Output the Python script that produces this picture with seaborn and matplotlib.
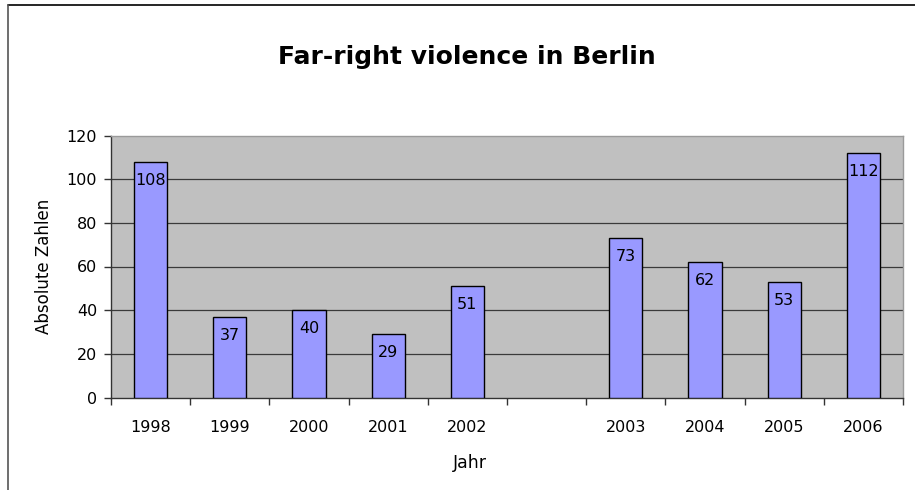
import matplotlib
matplotlib.use("Agg")
import matplotlib.pyplot as plt
import seaborn as sns
import pandas as pd
from matplotlib.lines import Line2D

# ---- data ----
years = ["1998", "1999", "2000", "2001", "2002", "2003", "2004", "2005", "2006"]
counts = [108, 37, 40, 29, 51, 73, 62, 53, 112]
gap_label = " "
order = years[:5] + [gap_label] + years[5:]
yticks = [0, 20, 40, 60, 80, 100, 120]

title = "Far-right violence in Berlin"
xlabel = "Jahr"
ylabel = "Absolute Zahlen"

df = pd.DataFrame({"Jahr": years, "Anzahl": counts})

sns.set_theme(style="white")
plt.rcParams["font.family"] = ["DejaVu Sans"]
plt.rcParams["text.color"] = "black"
plt.rcParams["axes.labelcolor"] = "black"

fig = plt.figure(figsize=(9.15, 4.9), dpi=100)
ax = fig.add_axes([111 / 915, 1 - 397.5 / 490, (903 - 111) / 915, (397.5 - 135.5) / 490])

sns.barplot(data=df, x="Jahr", y="Anzahl", order=order, color="#9999FF",
            saturation=1, width=0.42, edgecolor="black", linewidth=1.0, ax=ax, zorder=3)

ax.set_facecolor("#C0C0C0")
ax.set_ylim(0, 120)
ax.set_xlim(-0.5, len(order) - 0.5)
ax.set_yticks(yticks)
ax.set_yticklabels([str(v) for v in yticks], fontsize=11.5, color="black")
for v in yticks[1:-1]:
    ax.axhline(v, color="#3a3a3a", lw=0.9, zorder=1)

# x ticks: labels at centres, tick marks at slot boundaries
ax.set_xticks(range(len(order)))
ax.set_xticklabels(order, fontsize=11.5, color="black")
ax.set_xticks([i - 0.5 for i in range(len(order) + 1)], minor=True)
ax.tick_params(axis="x", which="major", length=0, pad=16.5)
ax.tick_params(axis="x", which="minor", length=5, width=1, color="#333333", direction="out", bottom=True)
ax.tick_params(axis="y", which="major", length=5, width=1, color="#333333", direction="out", left=True, pad=5)

for s in ["left", "bottom"]:
    ax.spines[s].set_color("#333333")
    ax.spines[s].set_linewidth(1.0)
for s in ["top", "right"]:
    ax.spines[s].set_color("#9a9a9a")
    ax.spines[s].set_linewidth(1.0)

ax.set_xlabel(xlabel, fontsize=12.5, color="black")
ax.set_ylabel(ylabel, fontsize=12, color="black")
ax.xaxis.set_label_coords(0.4527, -0.215)
ax.yaxis.set_label_coords(-0.073, 0.5)

# value labels just inside the top of each bar
for patch in ax.patches:
    h = patch.get_height()
    if h and h > 0:
        ax.annotate(f"{h:.0f}", (patch.get_x() + patch.get_width() / 2, h),
                    xytext=(0, -8), textcoords="offset points",
                    ha="center", va="top", fontsize=11.5, color="black", zorder=4)

fig.text(467 / 915, 1 - 57 / 490, title, fontsize=18, fontweight="bold",
         family=["DejaVu Sans"], color="black", ha="center", va="center")

# outer chart border (top and left edges visible)
fig.add_artist(Line2D([8 / 915, 1.0], [1 - 5 / 490, 1 - 5 / 490], transform=fig.transFigure,
                      color="black", lw=1.2))
fig.add_artist(Line2D([8 / 915, 8 / 915], [0, 1 - 5 / 490], transform=fig.transFigure,
                      color="#555555", lw=1.2))

fig.savefig("out.png", dpi=100)
